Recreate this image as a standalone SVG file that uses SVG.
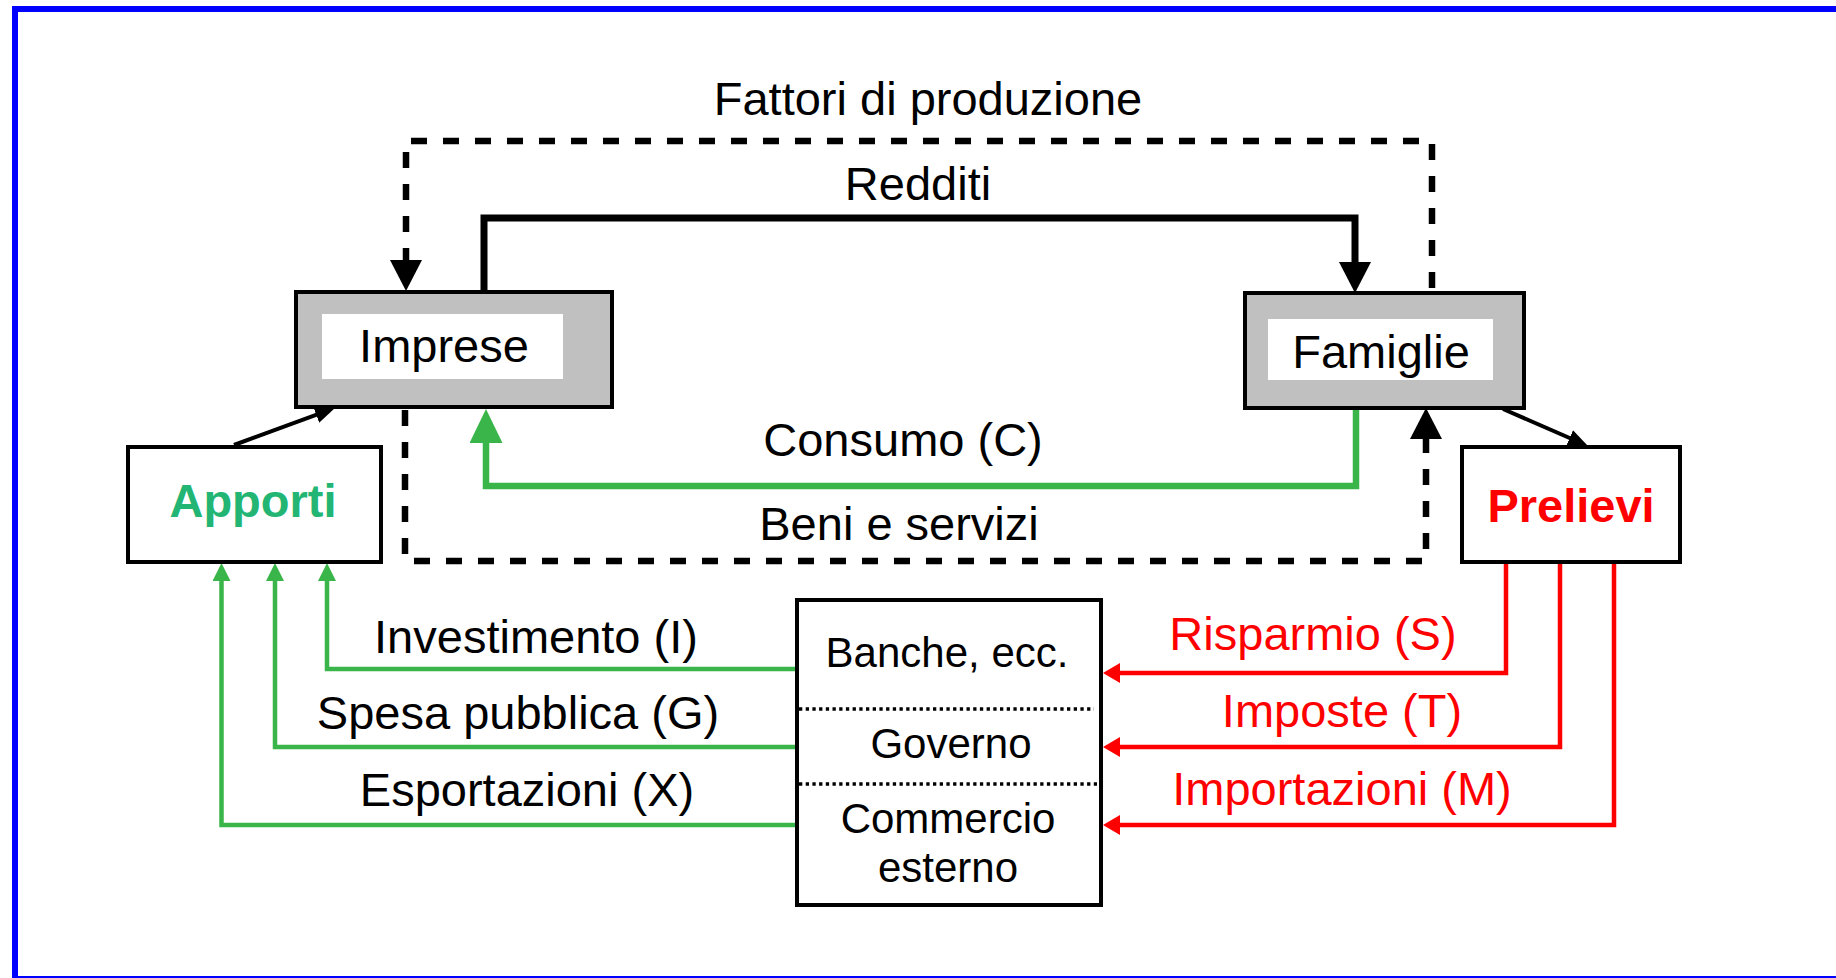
<svg xmlns="http://www.w3.org/2000/svg" width="1836" height="978" viewBox="0 0 1836 978">
<defs>
<style>
.t{font-family:"Liberation Sans",Arial,sans-serif;font-size:47px;fill:#000;text-anchor:middle}
.s{font-size:42px}
.b{font-weight:bold}
.red{fill:#ff0000}
.tg{fill:#22b573}
.box{fill:#fff;stroke:#000;stroke-width:4}
.gbox{fill:#c0c0c0;stroke:#000;stroke-width:4}
.inner{fill:#fff}
.dash{fill:none;stroke:#000;stroke-width:6.5;stroke-dasharray:16 16}
.solid{fill:none;stroke:#000;stroke-width:7}
.thin{fill:none;stroke:#000;stroke-width:4}
.gthick{fill:none;stroke:#3ab54a;stroke-width:6.5}
.gthin{fill:none;stroke:#3ab54a;stroke-width:4.5}
.rthin{fill:none;stroke:#ff0000;stroke-width:4.5}
.dot{fill:none;stroke:#000;stroke-width:3.3;stroke-dasharray:3.3 3.4}
</style>
<marker id="aBig" markerUnits="userSpaceOnUse" markerWidth="31" markerHeight="32" refX="15.5" refY="16" orient="auto" viewBox="0 0 31 32"><path d="M0,0 L31,16 L0,32 z" fill="#000"/></marker>
<marker id="aGreenBig" markerUnits="userSpaceOnUse" markerWidth="34" markerHeight="33" refX="17" refY="16.5" orient="auto" viewBox="0 0 34 33"><path d="M0,0 L34,16.5 L0,33 z" fill="#3ab54a"/></marker>
<marker id="aSmall" markerUnits="userSpaceOnUse" markerWidth="20" markerHeight="17" refX="10" refY="8.5" orient="auto" viewBox="0 0 20 17"><path d="M0,0 L20,8.5 L0,17 z" fill="#000"/></marker>
<marker id="aGreen" markerUnits="userSpaceOnUse" markerWidth="18" markerHeight="18" refX="9" refY="9" orient="auto" viewBox="0 0 18 18"><path d="M0,0 L18,9 L0,18 z" fill="#3ab54a"/></marker>
<marker id="aRed" markerUnits="userSpaceOnUse" markerWidth="17" markerHeight="20" refX="8.5" refY="10" orient="auto" viewBox="0 0 17 20"><path d="M0,0 L17,10 L0,20 z" fill="#ff0000"/></marker>
</defs>
<rect x="0" y="0" width="1836" height="978" fill="#fff"/>
<rect id="frame" x="15" y="9" width="1900" height="970" fill="none" stroke="#0000ff" stroke-width="6"/>

<g id="connectors">
<path id="c-fattori" class="dash" d="M1432,288 V141 H406 V275.5" marker-end="url(#aBig)"/>
<path id="c-redditi" class="solid" d="M484,292 V218 H1355 V277.5" marker-end="url(#aBig)"/>
<path id="c-beni" class="dash" d="M405,410 V561 H1426 V423.5" marker-end="url(#aBig)"/>
<path id="c-consumo" class="gthick" d="M1356,410 V486 H486 V426" marker-end="url(#aGreenBig)"/>
<path id="c-apporti" class="thin" d="M234,445 L325.6,411.4" marker-end="url(#aSmall)"/>
<path id="c-prelievi" class="thin" d="M1503,409 L1578.8,442" marker-end="url(#aSmall)"/>
<path id="c-inv" class="gthin" d="M797,669 H327 V572" marker-end="url(#aGreen)"/>
<path id="c-spesa" class="gthin" d="M797,747 H275 V572" marker-end="url(#aGreen)"/>
<path id="c-esp" class="gthin" d="M797,825 H221.5 V572" marker-end="url(#aGreen)"/>
<path id="c-risp" class="rthin" d="M1506,563 V673 H1111.5" marker-end="url(#aRed)"/>
<path id="c-imp" class="rthin" d="M1560,563 V747 H1111.5" marker-end="url(#aRed)"/>
<path id="c-impo" class="rthin" d="M1614,563 V825 H1111.5" marker-end="url(#aRed)"/>
</g>

<g id="labels">
<text class="t" x="928" y="115">Fattori di produzione</text>
<text class="t" x="918" y="200">Redditi</text>
<text class="t" x="903" y="456">Consumo (C)</text>
<text class="t" x="899" y="540">Beni e servizi</text>
<text class="t" x="536" y="653">Investimento (I)</text>
<text class="t" x="518" y="729">Spesa pubblica (G)</text>
<text class="t" x="527" y="806">Esportazioni (X)</text>
<text class="t red" x="1313" y="650">Risparmio (S)</text>
<text class="t red" x="1342" y="727">Imposte (T)</text>
<text class="t red" x="1342" y="805">Importazioni (M)</text>
</g>

<g id="imprese">
<rect class="gbox" x="296" y="292" width="316" height="115"/>
<rect class="inner" x="322" y="314" width="241" height="65"/>
<text class="t" x="444" y="362">Imprese</text>
</g>

<g id="famiglie">
<rect class="gbox" x="1245" y="293" width="279" height="115"/>
<rect class="inner" x="1268" y="319" width="225" height="61"/>
<text class="t" x="1381" y="368">Famiglie</text>
</g>

<g id="apporti">
<rect class="box" x="128" y="447" width="253" height="115"/>
<text class="t b tg" x="253" y="517">Apporti</text>
</g>

<g id="prelievi">
<rect class="box" x="1462" y="447" width="218" height="115"/>
<text class="t b red" x="1571" y="522">Prelievi</text>
</g>

<g id="settori">
<rect class="box" x="797" y="600" width="304" height="305"/>
<line class="dot" x1="799" y1="709" x2="1094" y2="709"/>
<line class="dot" x1="799" y1="784" x2="1097" y2="784"/>
<text class="t s" x="947" y="667">Banche, ecc.</text>
<text class="t s" x="951" y="758">Governo</text>
<text class="t s" x="948" y="833">Commercio</text>
<text class="t s" x="948" y="882">esterno</text>
</g>
</svg>
